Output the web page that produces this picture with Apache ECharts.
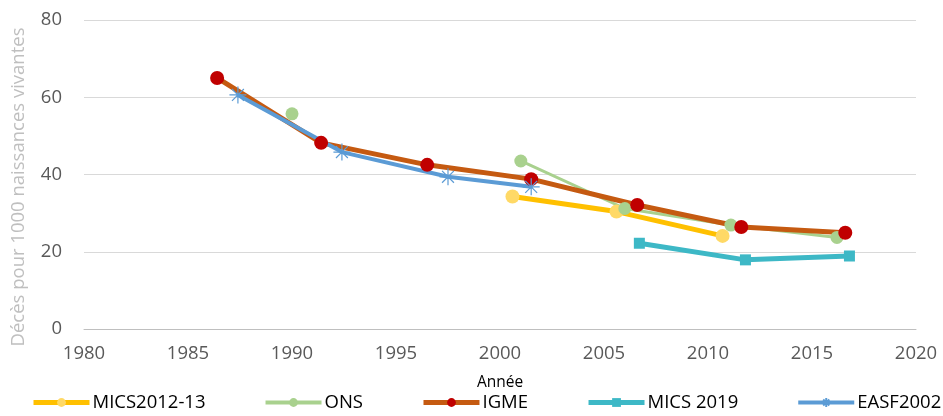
<!DOCTYPE html>
<html><head><meta charset="utf-8">
<script src="https://cdn.jsdelivr.net/npm/echarts@6/dist/echarts.min.js"></script>
<style>html,body{margin:0;padding:0;background:#fff}#c{width:943px;height:416px}</style>
</head><body><div id="c"></div>
<script>
const xTicks = [1980, 1985, 1990, 1995, 2000, 2005, 2010, 2015, 2020];
const yTicks = [0, 20, 40, 60, 80];
const micsA = [[2000.6, 34.3], [2005.6, 30.4], [2010.7, 24.1]];
// ONS: isolated 1990 point, then a connected series from 2001
const ons = [[1990.0, 55.7], [1995.5, '-'], [2001.0, 43.5], [2006.0, 31.2], [2011.1, 26.9], [2016.2, 23.7]];
const igme = [[1986.4, 65.0], [1991.4, 48.2], [1996.5, 42.5], [2001.5, 38.8], [2006.6, 32.1], [2011.6, 26.4], [2016.6, 24.9]];
const mics2019 = [[2006.7, 22.2], [2011.8, 17.9], [2016.8, 18.9]];
const easf = [[1987.4, 60.6], [1992.4, 45.8], [1997.5, 39.4], [2001.5, 36.8]];
const names = ['MICS2012-13', 'ONS', 'IGME', 'MICS 2019', 'EASF2002'];
const yTitle = 'Décès pour 1000 naissances vivantes';
const xTitle = 'Année';

const lineWidths = [5, 4, 5, 5, 4];
const font = '"Open Sans", "Noto Sans", sans-serif';
const chart = echarts.init(document.getElementById('c'));
chart.setOption({
  animation: false,
  textStyle: {fontFamily: font},
  grid: {left: 84, right: 27, top: 20, bottom: 87},
  xAxis: {
    type: 'value', min: xTicks[0], max: xTicks[xTicks.length - 1], interval: 5,
    name: xTitle, nameLocation: 'middle', nameGap: 46,
    nameTextStyle: {color: '#000', fontSize: 15.5, fontFamily: font},
    axisLine: {lineStyle: {color: '#BFBFBF', width: 1}},
    axisTick: {show: false},
    splitLine: {show: false},
    axisLabel: {color: '#595959', fontSize: 18.5, margin: 15, fontFamily: font, formatter: v => String(v)}
  },
  yAxis: {
    type: 'value', min: yTicks[0], max: yTicks[yTicks.length - 1], interval: 20,
    axisLine: {show: false}, axisTick: {show: false},
    splitLine: {lineStyle: {color: '#D9D9D9', width: 1}},
    axisLabel: {color: '#595959', fontSize: 18.5, margin: 22, fontFamily: font, formatter: v => String(v)}
  },
  graphic: [{
    type: 'text', x: 19, y: 187, rotation: Math.PI / 2,
    style: {text: yTitle, fill: '#BFBFBF', font: '18.5px ' + font, align: 'center', verticalAlign: 'middle'}
  }],
  legend: {
    top: 393, left: 31, itemWidth: 56, itemHeight: 11, itemGap: 58, padding: 0,
    textStyle: {color: '#000', fontSize: 18.5, fontFamily: font, padding: [0, 0, 0, -2]},
    data: names.map((n, i) => ({name: n, lineStyle: {width: lineWidths[i]}}))
  },
  series: [
    {name: names[0], type: 'line', data: micsA, symbol: 'circle', symbolSize: 14,
     lineStyle: {color: '#FFC000', width: 5}, itemStyle: {color: '#FFD966'}},
    {name: names[1], type: 'line', data: ons, symbol: 'circle', symbolSize: 13, connectNulls: false,
     lineStyle: {color: '#A9D18E', width: 3}, itemStyle: {color: '#A9D18E'}},
    {name: names[2], type: 'line', data: igme, symbol: 'circle', symbolSize: 14,
     lineStyle: {color: '#C55A11', width: 5}, itemStyle: {color: '#C00000'}},
    {name: names[3], type: 'line', data: mics2019, symbol: 'rect', symbolSize: 11,
     lineStyle: {color: '#3DB8C6', width: 5}, itemStyle: {color: '#3DB8C6'}},
    {name: names[4], type: 'line', data: easf, symbol: 'path://M0,-10L0,10M-10,0L10,0M-7,-7L7,7M-7,7L7,-7', symbolSize: 17,
     lineStyle: {color: '#5B9BD5', width: 4}, itemStyle: {color: 'none', borderColor: '#5B9BD5', borderWidth: 1.2}}
  ]
});
</script></body></html>
